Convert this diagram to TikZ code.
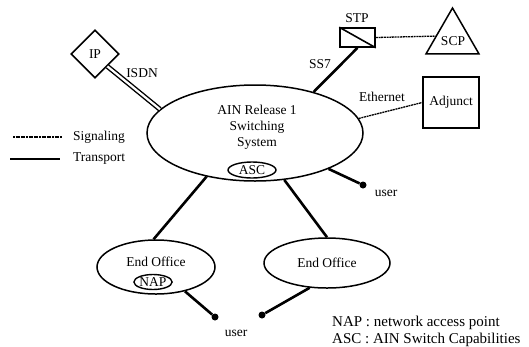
\documentclass[tikz,border=0pt]{standalone}
\usepackage{fontspec}
\setmainfont{Liberation Serif}
\usetikzlibrary{shapes.geometric}
\begin{document}
\begin{tikzpicture}[x=1pt,y=-1pt,
  every node/.style={font=\fontsize{13.5}{16}\selectfont},
  oval/.style={draw,ellipse,line width=1.5pt,inner sep=0pt},
  transport/.style={line width=2.6pt},
  signal/.style={line width=1.3pt,dash pattern=on 2pt off 0.7pt},
  isdn/.style={line width=1.4pt,double,double distance=2.2pt},
  userdot/.style={circle,fill,inner sep=0pt,minimum size=7pt},
  lbl/.style={inner sep=0pt}]
\useasboundingbox (0,0) rectangle (529,346);

% switching system and its capability
\node[oval,minimum width=216pt,minimum height=96pt] (sw) at (255,133) {};
\node[lbl,align=center,font=\fontsize{13.5}{16}\selectfont] (swtxt) at (257,127)
  {AIN Release 1\\Switching\\System};
\node[oval,minimum width=48pt,minimum height=16pt,line width=1.4pt] (asc) at (252,170) {ASC};

% end offices
\node[oval,minimum width=118pt,minimum height=54pt] (eol) at (156,267) {};
\node[lbl] (eoltxt) at (156,262) {End Office};
\node[oval,minimum width=37pt,minimum height=15pt,line width=1.4pt] (nap) at (153,282) {NAP};
\node[oval,minimum width=126pt,minimum height=50pt] (eor) at (327,263) {End Office};

% peripheral elements
\node[draw,diamond,line width=1.6pt,minimum size=48pt,inner sep=0pt] (ip) at (95,54) {IP};
\node[draw,line width=1.6pt,minimum width=35pt,minimum height=19pt,inner sep=0pt] (stp) at (357.5,37.5) {};
\draw[line width=1.6pt] (stp.north west) -- (stp.south east);
\node[lbl] (stptxt) at (357,18) {STP};
\node[draw,regular polygon,regular polygon sides=3,line width=1.5pt,
  minimum size=61pt,inner sep=0pt] (scp) at (452.5,38.5) {};
\node[lbl] (scptxt) at (453,41) {SCP};
\node[draw,line width=1.5pt,minimum width=56pt,minimum height=51pt,inner sep=0pt] (adj) at (451,102.5) {Adjunct};

% subscriber lines
\node[userdot] (ur) at (363,185) {};
\node[userdot] (ul) at (215,317) {};
\node[userdot] (ul2) at (262,315) {};
\node[lbl] (urtxt) at (386,193) {user};
\node[lbl] (ultxt) at (236,333) {user};

% connections
\draw[isdn] (ip.south east) -- (sw.166);
\node[lbl] (isdntxt) at (142,73) {ISDN};
\draw[transport] (sw.35) -- (stp.south);
\node[lbl] (ss7txt) at (320,64) {SS7};
\draw[signal] (stp.east) -- (scp.172);
\draw[signal] (sw.8) -- (adj.west);
\node[lbl] (ethtxt) at (382,97) {Ethernet};
\draw[transport] (sw.-26) -- (ur);
\draw[transport] (sw.222) -- (eol.95);
\draw[transport] (sw.302) -- (eor.north);
\draw[transport] (eol.-40) -- (ul);
\draw[transport] (eor.235) -- (ul2);

% legend
\coordinate (sga) at (13,137);
\coordinate (sgb) at (62,137);
\coordinate (tra) at (10,159);
\coordinate (trb) at (60,159);
\draw[line width=1.1pt,dash pattern=on 2pt off 0.6pt] (sga) -- (sgb);
\draw[line width=1.9pt] (tra) -- (trb);
\node[lbl,anchor=west] (sgtxt) at (73,137) {Signaling};
\node[lbl,anchor=west] (trtxt) at (73,159) {Transport};

% abbreviations
\node[lbl,anchor=west,font=\fontsize{15}{17}\selectfont] (napkey) at (332,323) {NAP : network access point};
\node[lbl,anchor=west,font=\fontsize{15}{17}\selectfont] (asckey) at (332,340) {ASC : AIN Switch Capabilities};
\end{tikzpicture}
\end{document}
